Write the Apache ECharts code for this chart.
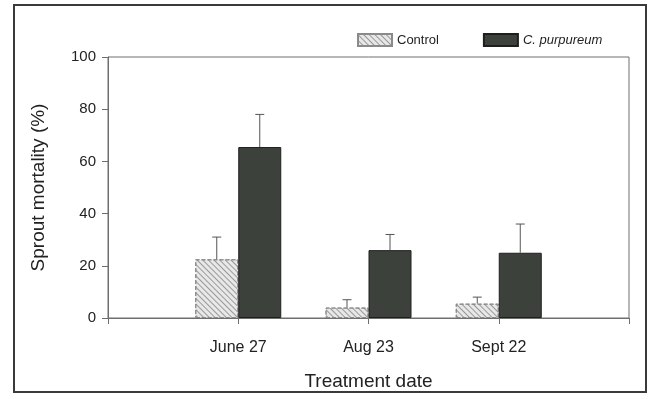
<!DOCTYPE html>
<html>
<head>
<meta charset="utf-8">
<script src="https://cdn.jsdelivr.net/npm/echarts@6/dist/echarts.min.js"></script>
<style>
  html, body { margin: 0; padding: 0; background: #ffffff; }
  #chart { width: 652px; height: 399px; }
</style>
</head>
<body>
<div id="chart"></div>
<script>
// Treatment dates (categories)
var dates = ['June 27', 'Aug 23', 'Sept 22'];
// Mean sprout mortality (%)
var controlMean = [22.5, 4, 5.5];
var purpureumMean = [65.5, 26, 25];
// Upper end of the error bars (%)
var controlUpper = [31, 7, 8];
var purpureumUpper = [78, 32, 36];
// Y-axis ticks
var yTicks = [0, 20, 40, 60, 80, 100];

var FONT = '"Liberation Sans", Arial, Helvetica, sans-serif';
var TEXT = '#222222';
var AXIS = '#6e6e6e';
var BAR_W = 43;

// Padding categories at both ends so the dates sit on interior ticks
var axisCats = [''].concat(dates, ['']);
function pad(arr) { return [null].concat(arr, [null]); }

function errorData(mean, upper) {
  return dates.map(function (d, i) { return [d, mean[i], upper[i]]; });
}

function errorRenderer(offset) {
  return function (params, api) {
    var base = api.coord([api.value(0), api.value(1)]);
    var top = api.coord([api.value(0), api.value(2)]);
    var x = base[0] + offset;
    var cap = 4.5;
    var style = { stroke: '#555', lineWidth: 1 };
    return {
      type: 'group',
      children: [
        { type: 'line', shape: { x1: x, y1: base[1], x2: x, y2: top[1] }, style: style },
        { type: 'line', shape: { x1: x - cap, y1: top[1], x2: x + cap, y2: top[1] }, style: style }
      ]
    };
  };
}

var chart = echarts.init(document.getElementById('chart'), null, { renderer: 'canvas' });

chart.setOption({
  backgroundColor: '#ffffff',
  animation: false,
  textStyle: { fontFamily: FONT, color: TEXT },
  graphic: [{
    type: 'rect',
    shape: { x: 14, y: 5, width: 632, height: 387 },
    style: { fill: null, stroke: '#3a3a3a', lineWidth: 2 },
    silent: true
  }],
  legend: {
    left: 352,
    top: 28,
    icon: 'rect',
    itemWidth: 34,
    itemHeight: 12,
    itemGap: 44,
    textStyle: { fontFamily: FONT, fontSize: 13, color: TEXT },
    data: [
      { name: 'Control' },
      { name: 'C. purpureum', textStyle: { fontStyle: 'italic' } }
    ]
  },
  grid: {
    left: 108, right: 23, top: 57, bottom: 81,
    show: true,
    borderColor: AXIS,
    borderWidth: 1,
    backgroundColor: 'transparent'
  },
  xAxis: {
    type: 'category',
    data: axisCats,
    boundaryGap: false,
    name: 'Treatment date',
    nameLocation: 'middle',
    nameGap: 54,
    nameTextStyle: { fontFamily: FONT, fontSize: 19, color: TEXT },
    axisLine: { show: true, lineStyle: { color: AXIS, width: 1 } },
    axisTick: { show: true, interval: 0, inside: false, length: 6, lineStyle: { color: AXIS } },
    axisLabel: { interval: 0, margin: 22, fontFamily: FONT, fontSize: 16, color: TEXT },
    splitLine: { show: false }
  },
  yAxis: {
    type: 'value',
    min: yTicks[0],
    max: yTicks[yTicks.length - 1],
    interval: yTicks[1] - yTicks[0],
    name: 'Sprout mortality (%)',
    nameLocation: 'middle',
    nameGap: 60,
    nameTextStyle: { fontFamily: FONT, fontSize: 19, color: TEXT },
    axisLine: { show: true, lineStyle: { color: AXIS, width: 1 } },
    axisTick: { show: true, inside: false, length: 6, lineStyle: { color: AXIS } },
    axisLabel: { margin: 12, fontFamily: FONT, fontSize: 15, color: TEXT },
    splitLine: { show: false }
  },
  series: [
    {
      name: 'Control',
      type: 'bar',
      data: pad(controlMean),
      barWidth: BAR_W,
      barGap: '0%',
      itemStyle: {
        color: '#e8e8e8',
        borderColor: '#8a8a8a',
        borderWidth: 1,
        borderType: 'dashed',
        decal: {
          symbol: 'rect',
          symbolSize: 1,
          dashArrayX: [1, 0],
          dashArrayY: [1, 2.6],
          rotation: Math.PI / 4,
          color: 'rgba(100,100,100,0.6)'
        }
      }
    },
    {
      name: 'C. purpureum',
      type: 'bar',
      data: pad(purpureumMean),
      barWidth: BAR_W,
      barGap: '0%',
      itemStyle: {
        color: '#3c423b',
        borderColor: '#1e1e1e',
        borderWidth: 1
      }
    },
    {
      name: 'Control error',
      type: 'custom',
      data: errorData(controlMean, controlUpper),
      renderItem: errorRenderer(-BAR_W / 2),
      z: 3,
      silent: true
    },
    {
      name: 'C. purpureum error',
      type: 'custom',
      data: errorData(purpureumMean, purpureumUpper),
      renderItem: errorRenderer(BAR_W / 2),
      z: 3,
      silent: true
    }
  ]
});
</script>
</body>
</html>
